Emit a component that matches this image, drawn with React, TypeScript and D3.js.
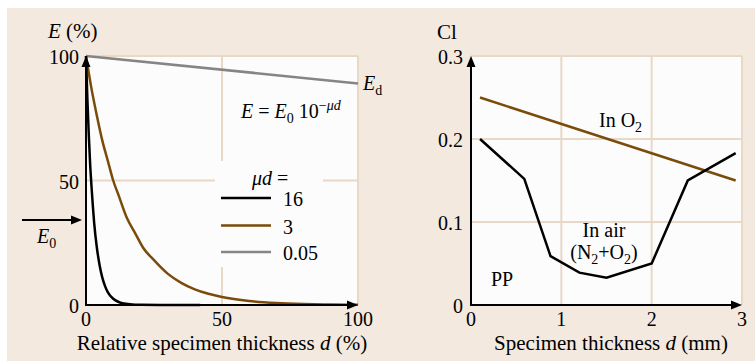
import React from "react";
import * as d3 from "d3";

// ---- Left chart data: E (%) vs relative specimen thickness d (%) ----
const leftXTicks = [0, 50, 100];
const leftYTicks = [0, 50, 100];
const mu16D = [0, 0.5, 1, 1.5, 2, 2.5, 3, 4, 5, 6, 7, 8, 10, 12, 14, 17, 20, 30, 42];
const mu16E = [100, 83, 69, 57, 48, 40, 33, 23, 16, 11, 7.6, 5.2, 2.5, 1.2, 0.6, 0.2, 0.1, 0, 0];
const mu3D = [0, 2, 4, 6, 8, 10, 12, 15, 18, 21, 25, 30, 35, 40, 45, 50, 60, 70, 80, 90, 100];
const mu3E = [100, 87, 76, 66, 58, 50, 44, 35, 29, 23, 18, 12.6, 8.9, 6.3, 4.5, 3.2, 1.6, 0.8, 0.4, 0.2, 0.1];
const mu005D = [0, 100];
const mu005E = [100, 89];
const legendLabels = ["16", "3", "0.05"];

// ---- Right chart data: Cl vs specimen thickness d (mm) ----
const rightXTicks = [0, 1, 2, 3];
const rightYTicks = [0, 0.1, 0.2, 0.3];
const o2D = [0.1, 2.93];
const o2Cl = [0.25, 0.15];
const airD = [0.1, 0.59, 0.88, 1.2, 1.5, 2.0, 2.4, 2.93];
const airCl = [0.2, 0.152, 0.059, 0.039, 0.033, 0.05, 0.15, 0.183];

const BG = "#f3e9df";
const PLOT_BG = "#fcfcfc";
const GRID = "#e8d8c5";
const BROWN = "#7a4b0b";
const GRAY = "#858585";
const FONT = "'Liberation Serif', 'Times New Roman', serif";

function Arrow({ x1, y1, x2, y2 }: { x1: number; y1: number; x2: number; y2: number }) {
  const ang = Math.atan2(y2 - y1, x2 - x1);
  const L = 11, W = 4.5;
  const bx = x2 - L * Math.cos(ang), by = y2 - L * Math.sin(ang);
  const px = -Math.sin(ang) * W, py = Math.cos(ang) * W;
  return (
    <g>
      <line x1={x1} y1={y1} x2={bx + 1 * Math.cos(ang)} y2={by + 1 * Math.sin(ang)} stroke="#000" strokeWidth={2} />
      <path d={`M${x2},${y2}L${bx + px},${by + py}L${bx - px},${by - py}Z`} fill="#000" />
    </g>
  );
}

export default function App() {
  // Left scales
  const lx = d3.scaleLinear().domain([0, 100]).range([86, 358]);
  const ly = d3.scaleLinear().domain([0, 100]).range([305, 56]);
  // Right scales
  const rx = d3.scaleLinear().domain([0, 3]).range([471, 742]);
  const ry = d3.scaleLinear().domain([0, 0.3]).range([305, 56]);

  const lineL = d3
    .line<[number, number]>()
    .x((p) => lx(p[0]))
    .y((p) => ly(p[1]))
    .curve(d3.curveMonotoneX);
  const lineR = d3
    .line<[number, number]>()
    .x((p) => rx(p[0]))
    .y((p) => ry(p[1]));

  const zip = (a: number[], b: number[]) => a.map((v, i) => [v, b[i]] as [number, number]);

  const legendColors = ["#000", BROWN, GRAY];
  const legendX1 = 221, legendX2 = 271;
  const legendYs = [198, 225.5, 252];

  return (
    <svg
      width={755}
      height={361}
      style={{ position: "absolute", left: 0, top: 0 }}
      fontFamily={FONT}
    >
      <rect x={7} y={8} width={748} height={353} fill={BG} />

      {/* ===== Left chart ===== */}
      <rect x={lx(0)} y={ly(100)} width={lx(100) - lx(0)} height={ly(0) - ly(100)} fill={PLOT_BG} />
      {/* grid */}
      {[50, 100].map((v) => (
        <line key={"lgx" + v} x1={lx(v)} x2={lx(v)} y1={ly(0)} y2={ly(100)} stroke={GRID} strokeWidth={2} />
      ))}
      {[50, 100].map((v) => (
        <line key={"lgy" + v} x1={lx(0)} x2={lx(100)} y1={ly(v)} y2={ly(v)} stroke={GRID} strokeWidth={2} />
      ))}
      {/* legend background masking grid */}
      <rect x={215} y={161} width={108} height={106} fill={PLOT_BG} />

      {/* curves */}
      <path d={lineL(zip(mu005D, mu005E)) || ""} fill="none" stroke={GRAY} strokeWidth={2.5} />
      <path d={lineL(zip(mu3D, mu3E)) || ""} fill="none" stroke={BROWN} strokeWidth={2.5} />
      <path d={lineL(zip(mu16D, mu16E)) || ""} fill="none" stroke="#000" strokeWidth={2.5} />

      {/* axes */}
      <Arrow x1={lx(0)} y1={ly(0)} x2={lx(0)} y2={ly(100)} />
      <Arrow x1={lx(0) - 1} y1={ly(0)} x2={lx(100)} y2={ly(0)} />

      {/* ticks */}
      {leftYTicks.map((v) => (
        <text key={"lyt" + v} x={lx(0) - 7} y={ly(v) + 1} textAnchor="end" dominantBaseline="central" fontSize={20}>
          {v}
        </text>
      ))}
      {leftXTicks.map((v) => (
        <text key={"lxt" + v} x={lx(v)} y={326} textAnchor="middle" fontSize={20}>
          {v}
        </text>
      ))}
      <text x={48} y={38} fontSize={21}>
        <tspan fontStyle="italic">E</tspan> (%)
      </text>
      <text x={222} y={350} textAnchor="middle" fontSize={21}>
        Relative specimen thickness <tspan fontStyle="italic">d</tspan> (%)
      </text>

      {/* formula */}
      <text x={241} y={118} fontSize={20}>
        <tspan fontStyle="italic">E</tspan> = <tspan fontStyle="italic">E</tspan>
        <tspan fontSize={14} dy={5}>0</tspan>
        <tspan dy={-5}> 10</tspan>
        <tspan fontSize={14} dy={-8}>−</tspan>
        <tspan fontSize={14} fontStyle="italic">μd</tspan>
      </text>
      {/* Ed label */}
      <text x={363} y={90} fontSize={20}>
        <tspan fontStyle="italic">E</tspan>
        <tspan fontSize={14} dy={5}>d</tspan>
      </text>
      {/* E0 arrow */}
      <Arrow x1={22} y1={220} x2={82} y2={220} />
      <text x={37} y={243} fontSize={20}>
        <tspan fontStyle="italic">E</tspan>
        <tspan fontSize={14} dy={5}>0</tspan>
      </text>

      {/* legend */}
      <text x={252} y={185} fontSize={20}>
        <tspan fontStyle="italic">μd</tspan> =
      </text>
      {legendLabels.map((lab, i) => (
        <g key={"leg" + i}>
          <line x1={legendX1} x2={legendX2} y1={legendYs[i]} y2={legendYs[i]} stroke={legendColors[i]} strokeWidth={2.5} />
          <text x={283} y={legendYs[i] + 1} dominantBaseline="central" fontSize={20}>
            {lab}
          </text>
        </g>
      ))}

      {/* ===== Right chart ===== */}
      <rect x={rx(0)} y={ry(0.3)} width={rx(3) - rx(0)} height={ry(0) - ry(0.3)} fill={PLOT_BG} />
      {[1, 2, 3].map((v) => (
        <line key={"rgx" + v} x1={rx(v)} x2={rx(v)} y1={ry(0)} y2={ry(0.3)} stroke={GRID} strokeWidth={2} />
      ))}
      {[0.1, 0.2, 0.3].map((v) => (
        <line key={"rgy" + v} x1={rx(0)} x2={rx(3)} y1={ry(v)} y2={ry(v)} stroke={GRID} strokeWidth={2} />
      ))}

      <path d={lineR(zip(o2D, o2Cl)) || ""} fill="none" stroke={BROWN} strokeWidth={2.5} />
      <path d={lineR(zip(airD, airCl)) || ""} fill="none" stroke="#000" strokeWidth={2.5} strokeLinejoin="miter" />

      <Arrow x1={rx(0)} y1={ry(0)} x2={rx(0)} y2={ry(0.3)} />
      <Arrow x1={rx(0) - 1} y1={ry(0)} x2={rx(3)} y2={ry(0)} />

      {rightYTicks.map((v) => (
        <text key={"ryt" + v} x={rx(0) - 8} y={ry(v) + 1} textAnchor="end" dominantBaseline="central" fontSize={20}>
          {String(v)}
        </text>
      ))}
      {rightXTicks.map((v) => (
        <text key={"rxt" + v} x={rx(v)} y={326} textAnchor="middle" fontSize={20}>
          {v}
        </text>
      ))}
      <text x={437} y={39} fontSize={21}>
        Cl
      </text>
      <text x={611} y={350} textAnchor="middle" fontSize={21}>
        Specimen thickness <tspan fontStyle="italic">d</tspan> (mm)
      </text>

      <text x={599} y={127} fontSize={20}>
        In O<tspan fontSize={14} dy={5}>2</tspan>
      </text>
      <text x={604} y={237} textAnchor="middle" fontSize={20}>
        In air
      </text>
      <text x={604} y={259} textAnchor="middle" fontSize={20}>
        (N<tspan fontSize={14} dy={5}>2</tspan>
        <tspan dy={-5}>+O</tspan>
        <tspan fontSize={14} dy={5}>2</tspan>
        <tspan dy={-5}>)</tspan>
      </text>
      <text x={491} y={286} fontSize={20}>
        PP
      </text>
    </svg>
  );
}
